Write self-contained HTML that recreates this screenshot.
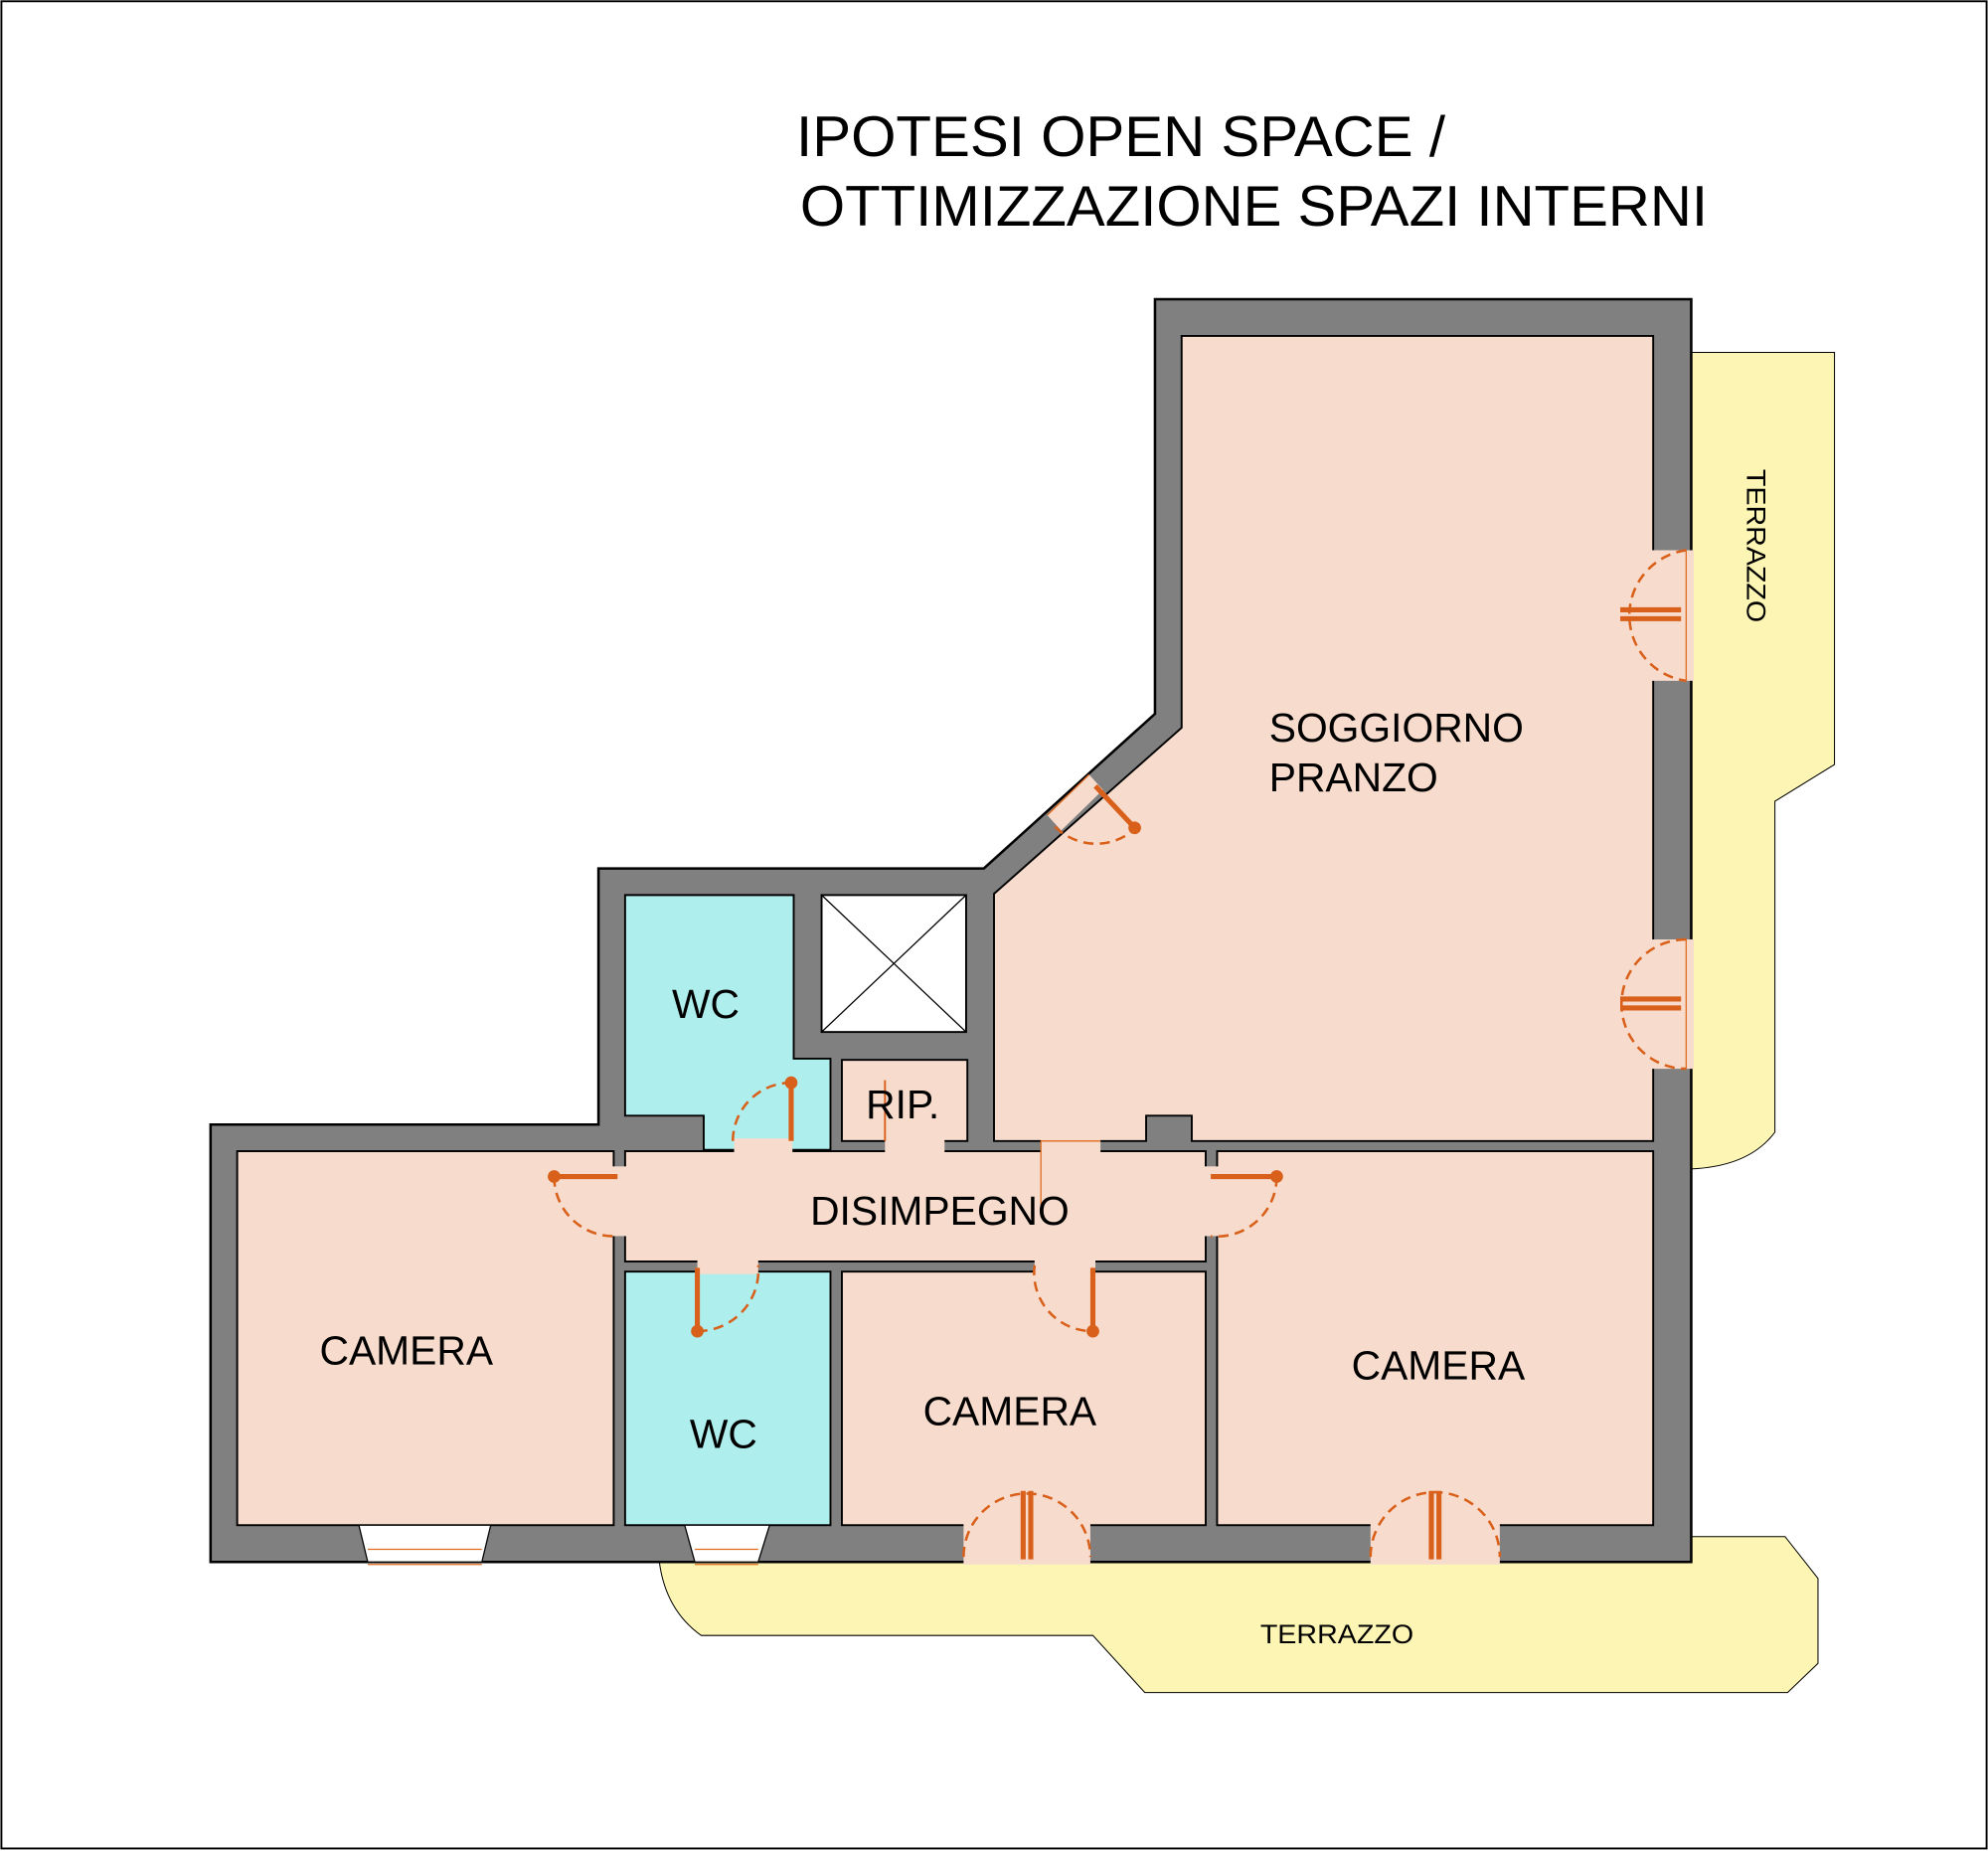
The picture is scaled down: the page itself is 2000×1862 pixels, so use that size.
<!DOCTYPE html>
<html><head><meta charset="utf-8"><style>html,body{margin:0;padding:0;background:#fff}svg{display:block}</style></head>
<body>
<svg width="2000" height="1862" viewBox="0 0 1568 1460" xmlns="http://www.w3.org/2000/svg" font-family="Liberation Sans, sans-serif">
<rect x="1" y="1" width="1566" height="1457" fill="#fff" stroke="#000" stroke-width="1.5"/>
<text x="628" y="123" font-size="45" fill="#000" textLength="512" lengthAdjust="spacingAndGlyphs">IPOTESI OPEN SPACE /</text>
<text x="631" y="178" font-size="45" fill="#000" textLength="716" lengthAdjust="spacingAndGlyphs">OTTIMIZZAZIONE SPAZI INTERNI</text>
<path d="M1334,278 L1447,278 L1447,603 L1400,632 L1400,893 Q1380,920 1334,922 Z" fill="#fdf5b3" stroke="#000" stroke-width="0.8"/>
<path d="M520,1232 L1334,1232 L1334,1212 L1408,1212 L1434,1245 L1434,1312 L1410,1335 L903,1335 L862,1290 L553,1290 Q525,1270 520,1232 Z" fill="#fdf5b3" stroke="#000" stroke-width="0.8"/>
<path d="M911,236 L1334,236 L1334,1232 L166,1232 L166,887 L472,887 L472,685 L776,685 L911,563 Z" fill="#808080" stroke="#000" stroke-width="2"/>
<g stroke="#000" stroke-width="1.5">
<path d="M932,265 L1304,265 L1304,900 L940,900 L940,880 L904,880 L904,900 L784,900 L784,705 L932,574 Z" fill="#f7dccd"/>
<path d="M493,706 L626,706 L626,835 L655,835 L655,907 L555,907 L555,880 L493,880 Z" fill="#aeeeed"/>
<rect x="648" y="706" width="114" height="108" fill="#fff"/>
<rect x="664" y="836" width="99" height="64" fill="#f7dccd"/>
<rect x="493" y="908" width="458" height="87" fill="#f7dccd"/>
<rect x="187" y="908" width="297" height="295" fill="#f7dccd"/>
<rect x="493" y="1003" width="162" height="200" fill="#aeeeed"/>
<rect x="664" y="1003" width="287" height="200" fill="#f7dccd"/>
<rect x="960" y="908" width="344" height="295" fill="#f7dccd"/>
</g>
<line x1="648" y1="706" x2="762" y2="814" stroke="#000" stroke-width="1"/>
<line x1="762" y1="706" x2="648" y2="814" stroke="#000" stroke-width="1"/>
<g fill="#f7dccd">
<rect x="579" y="898" width="46" height="12"/>
<rect x="698" y="898" width="47" height="12"/>
<rect x="821" y="898" width="47" height="12"/>
<rect x="482" y="920" width="13" height="55"/>
<rect x="949" y="920" width="13" height="55"/>
<rect x="550" y="993" width="48" height="12"/>
<rect x="816" y="993" width="48" height="12"/>
<rect x="1302" y="434" width="34" height="103"/>
<rect x="1302" y="741" width="34" height="102"/>
<rect x="760" y="1201" width="100" height="33"/>
<rect x="1081" y="1201" width="102" height="33"/>
<polygon points="826,643 859,611 870,623 837,655"/>
</g>
<g fill="#fff" stroke="#000" stroke-width="1">
<polygon points="283,1203 387,1203 380,1232 290,1232"/>
<polygon points="540,1203 607,1203 598,1232 548,1232"/>
</g>
<g stroke="#e06a1c" fill="none" stroke-width="1">
<line x1="290" y1="1222" x2="380" y2="1222"/><line x1="290" y1="1234" x2="380" y2="1234"/>
<line x1="548" y1="1222" x2="598" y2="1222"/><line x1="548" y1="1234" x2="598" y2="1234"/>
<line x1="821" y1="900" x2="868" y2="900"/><line x1="821" y1="900" x2="821" y2="958"/>
<line x1="826" y1="643" x2="859" y2="611"/>
<line x1="1330" y1="434" x2="1330" y2="537"/><line x1="1330" y1="741" x2="1330" y2="843"/>
</g>
<g stroke="#d9601a" fill="none" stroke-width="2" stroke-dasharray="8,5">
<path d="M1330,434 A52,52 0 0 0 1330,537"/>
<path d="M1330,741 A51,51 0 0 0 1330,843"/>
<path d="M832,652 A46,46 0 0 0 895,654"/>
<path d="M578,900 A46,46 0 0 1 624,854"/>
<path d="M437,928 A47,47 0 0 0 487,975"/>
<path d="M1007,928 A47,47 0 0 1 955,975"/>
<path d="M550,1050 A48,48 0 0 0 598,998"/>
<path d="M816,998 A46,46 0 0 0 862,1050"/>
<path d="M760,1228 A50,50 0 0 1 860,1228"/>
<path d="M1081,1228 A51,51 0 0 1 1183,1228"/>
</g>
<g stroke="#d9601a" stroke-width="4" fill="#d9601a">
<line x1="1278" y1="481" x2="1326" y2="481"/><line x1="1278" y1="488" x2="1326" y2="488"/>
<line x1="1278" y1="788" x2="1326" y2="788"/><line x1="1278" y1="795" x2="1326" y2="795"/>
<line x1="864" y1="620" x2="895" y2="653"/><circle cx="895" cy="653" r="3"/>
<line x1="624" y1="900" x2="624" y2="854"/><circle cx="624" cy="854" r="3"/>
<line x1="487" y1="928" x2="437" y2="928"/><circle cx="437" cy="928" r="3"/>
<line x1="955" y1="928" x2="1007" y2="928"/><circle cx="1007" cy="928" r="3"/>
<line x1="550" y1="1000" x2="550" y2="1050"/><circle cx="550" cy="1050" r="3"/>
<line x1="862" y1="1000" x2="862" y2="1050"/><circle cx="862" cy="1050" r="3"/>
<line x1="807" y1="1176" x2="807" y2="1230"/><line x1="813" y1="1176" x2="813" y2="1230"/>
<line x1="1129" y1="1176" x2="1129" y2="1230"/><line x1="1135" y1="1176" x2="1135" y2="1230"/>
</g>
<line x1="698" y1="852" x2="698" y2="900" stroke="#d9601a" stroke-width="1.5"/>
<g fill="#000" font-size="32">
<text x="1001" y="585">SOGGIORNO</text>
<text x="1001" y="624">PRANZO</text>
<text x="530" y="803">WC</text>
<text x="544" y="1142">WC</text>
<text x="683" y="882">RIP.</text>
<text x="639" y="966">DISIMPEGNO</text>
<text x="252" y="1076">CAMERA</text>
<text x="728" y="1124">CAMERA</text>
<text x="1066" y="1088">CAMERA</text>
</g>
<text x="994" y="1296" font-size="21" textLength="121" lengthAdjust="spacingAndGlyphs">TERRAZZO</text>
<text x="0" y="0" font-size="21" textLength="121" lengthAdjust="spacingAndGlyphs" transform="translate(1378,370) rotate(90)">TERRAZZO</text>
</svg>
</body></html>
